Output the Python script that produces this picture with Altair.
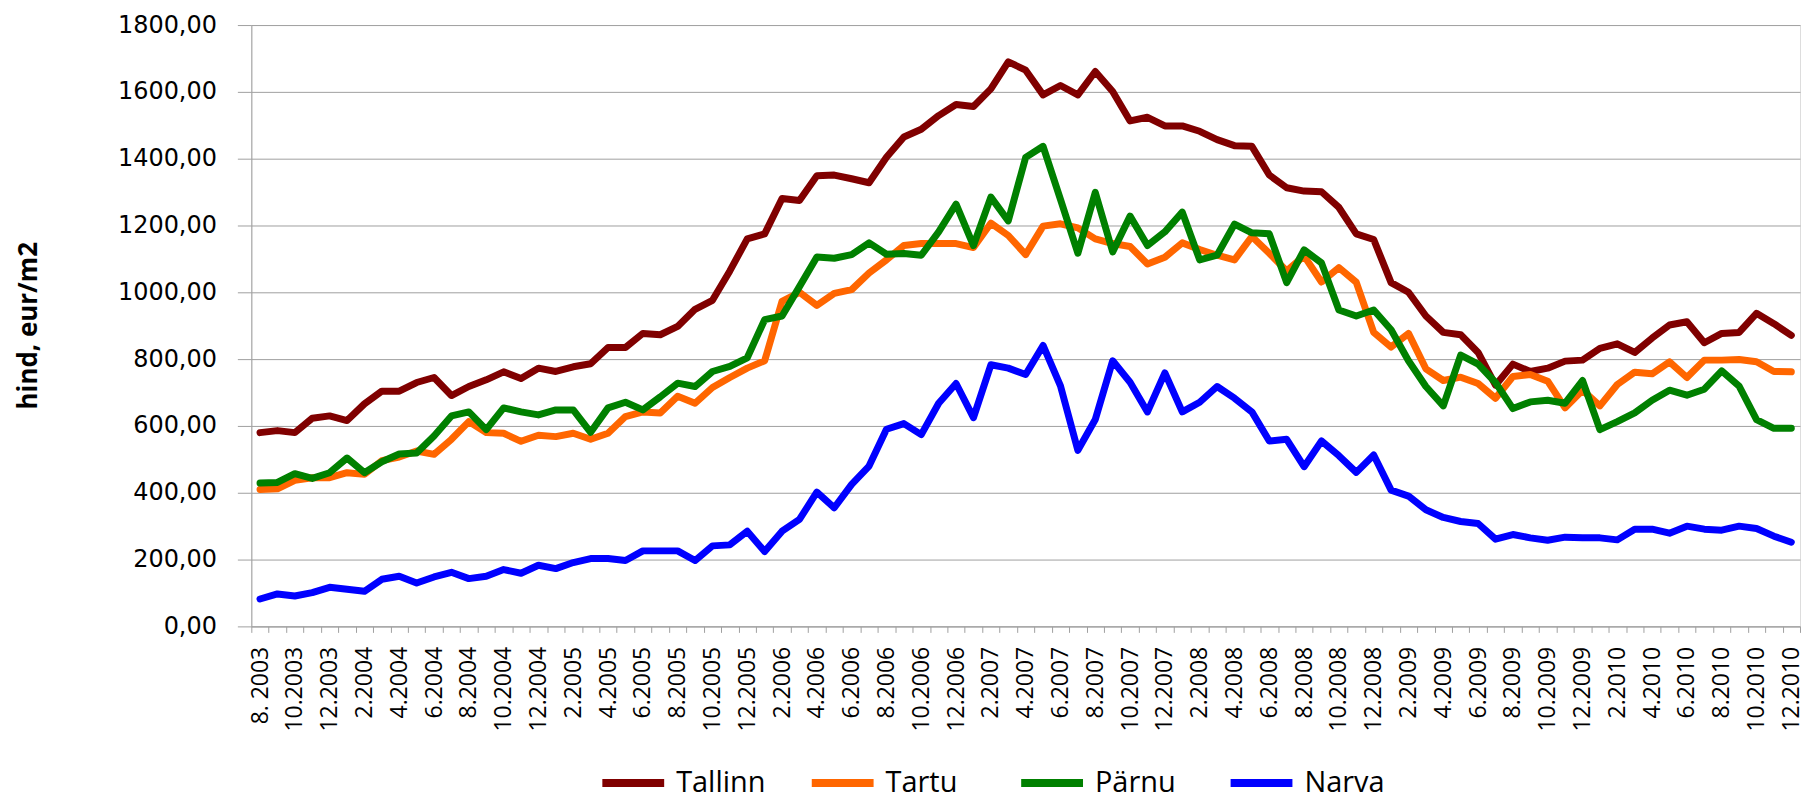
import json
import altair as alt
import pandas as pd

# ---- data (one value per month, 8.2003 .. 12.2010) ----
cities = ["Tallinn", "Tartu", "Pärnu", "Narva"]
colors = ["#800000", "#FF6600", "#008000", "#0000FF"]

tallinn = [580, 586, 580, 623, 630, 616, 666, 704, 704, 730, 745, 691, 718, 738, 762, 742, 773, 763,
           777, 786, 835, 835, 877, 873, 898, 949, 976, 1064, 1160, 1175, 1281, 1275, 1349, 1351, 1340, 1328,
           1404, 1465, 1488, 1529, 1562, 1556, 1609, 1690, 1665, 1591, 1619, 1591, 1661, 1601, 1513, 1524, 1498,
           1498, 1482, 1457, 1439, 1437, 1351, 1313, 1303, 1301, 1254, 1175, 1158, 1029, 1000, 929, 880, 873, 820,
           722, 785, 763, 773, 794, 797, 832, 846, 820, 863, 902, 912, 849, 877, 880, 937, 906, 871]

tartu = [410, 412, 437, 445, 445, 460, 455, 496, 507, 525, 515, 560, 613, 580, 578, 554, 572, 568,
         578, 560, 578, 628, 642, 639, 689, 668, 715, 745, 773, 795, 973, 1000, 961, 997, 1008, 1058,
         1097, 1140, 1146, 1146, 1146, 1134, 1207, 1170, 1113, 1198, 1205, 1193, 1160, 1146, 1137, 1085, 1105,
         1148, 1128, 1111, 1097, 1167, 1117, 1064, 1109, 1031, 1074, 1030, 880, 836, 877, 771, 736, 746, 727,
         683, 748, 754, 734, 654, 707, 660, 724, 761, 756, 792, 745, 797, 797, 799, 792, 763, 762]

parnu = [429, 431, 457, 443, 460, 504, 460, 493, 516, 519, 570, 630, 642, 589, 654, 642, 633, 648,
         648, 581, 654, 671, 648, 687, 728, 718, 763, 778, 804, 918, 929, 1017, 1106, 1102, 1113, 1148,
         1114, 1116, 1111, 1181, 1264, 1140, 1285, 1214, 1404, 1437, 1278, 1117, 1299, 1121, 1228, 1140, 1181,
         1240, 1097, 1111, 1204, 1178, 1175, 1029, 1127, 1088, 947, 929, 947, 888, 795, 718, 660, 812, 785,
         730, 652, 672, 677, 668, 736, 589, 613, 639, 677, 707, 692, 710, 765, 719, 619, 593, 593]

narva = [82, 97, 91, 101, 117, 111, 105, 141, 150, 130, 148, 162, 143, 150, 170, 159, 183, 173,
         191, 203, 203, 197, 226, 226, 226, 197, 241, 244, 285, 224, 285, 320, 402, 355, 425, 480,
         590, 607, 574, 668, 727, 625, 783, 773, 754, 841, 720, 527, 619, 795, 731, 642, 759,
         642, 671, 718, 683, 642, 555, 560, 478, 555, 511, 461, 513, 408, 390, 349, 326, 314, 308,
         261, 275, 265, 258, 267, 265, 265, 259, 291, 291, 279, 300, 291, 288, 300, 293, 270, 252]

tick_labels = ["8. 2003", "10.2003", "12.2003",
               "2.2004", "4.2004", "6.2004", "8.2004", "10.2004", "12.2004",
               "2.2005", "4.2005", "6.2005", "8.2005", "10.2005", "12.2005",
               "2.2006", "4.2006", "6.2006", "8.2006", "10.2006", "12.2006",
               "2.2007", "4.2007", "6.2007", "8.2007", "10.2007", "12.2007",
               "2.2008", "4.2008", "6.2008", "8.2008", "10.2008", "12.2008",
               "2.2009", "4.2009", "6.2009", "8.2009", "10.2009", "12.2009",
               "2.2010", "4.2010", "6.2010", "8.2010", "10.2010", "12.2010"]

y_ticks = [0, 200, 400, 600, 800, 1000, 1200, 1400, 1600, 1800]

n_months = len(tallinn)
rows = []
for k, (city, vals) in enumerate(zip(cities, [tallinn, tartu, parnu, narva])):
    for i, v in enumerate(vals):
        rows.append({"city": city, "m": i + 0.5, "v": v, "k": k})
df = pd.DataFrame(rows)

GRAY = "#A0A0A0"
PLOT_W, PLOT_H = 1553, 603
xscale = alt.Scale(domain=[0, n_months], nice=False, zero=False)
yscale = alt.Scale(domain=[0, 1800], nice=False, zero=True)

yaxis = alt.Axis(
    values=y_ticks,
    labelExpr="replace(format(datum.value, '.2f'), '.', ',')",
    title="hind, eur/m2",
    grid=True, gridColor=GRAY, gridWidth=1,
    domain=True, domainColor=GRAY, domainWidth=1,
    ticks=True, tickColor=GRAY, tickSize=14, tickWidth=1,
    labelPadding=21, labelFont="DejaVu Sans", labelFontSize=24, labelColor="#000000",
    titleFont="Open Sans", titleFontSize=26, titleFontWeight="bold", titleColor="#000000",
    titleAngle=270, titleAlign="center", titleBaseline="middle",
    titleX=-223, titleY=301,
)

label_expr = json.dumps(tick_labels, ensure_ascii=False) + "[floor(datum.value / 2)]"
xaxis_labels = alt.Axis(
    values=[i + 0.5 for i in range(0, n_months, 2)],
    labelExpr=label_expr, labelAngle=270, labelOverlap=False,
    ticks=False, tickSize=0, domain=False, grid=False,
    labelPadding=20, orient="bottom", title=None,
    labelFont="Open Sans", labelFontSize=23, labelColor="#000000",
)
xaxis_ticks = alt.Axis(
    values=list(range(0, n_months + 1)),
    labels=False, ticks=True, tickSize=6, tickColor=GRAY, tickWidth=1,
    domain=True, domainColor=GRAY, domainWidth=1, grid=False,
    orient="bottom", title=None,
)

tick_layer = alt.Chart(df).mark_line(opacity=0).encode(
    x=alt.X("m:Q", scale=xscale, axis=xaxis_ticks),
    y=alt.Y("v:Q", scale=yscale, axis=yaxis),
    detail="city:N",
)

lines = alt.Chart(df).mark_line(strokeWidth=7, strokeCap="round", strokeJoin="round").encode(
    x=alt.X("m:Q", scale=xscale, axis=xaxis_labels),
    y=alt.Y("v:Q", scale=yscale, axis=yaxis),
    color=alt.Color(
        "city:N",
        scale=alt.Scale(domain=cities, range=colors),
        sort=cities,
        legend=alt.Legend(
            title=None, orient="none", legendX=348, legendY=725,
            direction="horizontal", columns=4, gridAlign="all", columnPadding=30,
            symbolType="stroke", symbolSize=3844, symbolStrokeWidth=8,
            labelFont="Open Sans", labelFontSize=29, labelColor="#000000",
            labelOffset=8, padding=0,
        ),
    ),
    order=alt.Order("k:Q"),
)

chart = alt.layer(tick_layer, lines).resolve_axis(x="independent").properties(
    width=PLOT_W, height=PLOT_H,
    autosize=alt.AutoSizeParams(type="none"),
    padding={"left": 244, "top": 16, "right": 5, "bottom": 172},
).configure_view(stroke=None).configure(background="white")

chart.save("out.html", embed_options={"renderer": "svg", "actions": False})
